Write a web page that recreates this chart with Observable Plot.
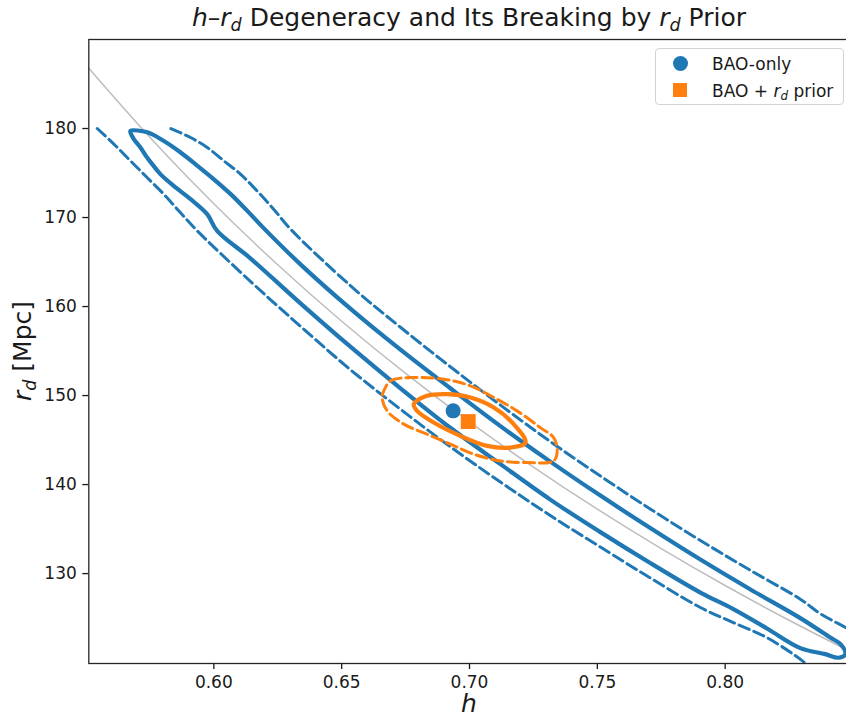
<!DOCTYPE html>
<html><head><meta charset="utf-8">
<script src="https://cdn.jsdelivr.net/npm/d3@7"></script>
<script src="https://cdn.jsdelivr.net/npm/@observablehq/plot@0.6"></script>
<style>
html,body{margin:0;padding:0;background:#fff;overflow:hidden}
body{font-family:"DejaVu Sans",sans-serif;color:#1a1a1a}
#wrap{position:relative;width:846px;height:717px;overflow:hidden}
#title{position:absolute;left:469px;top:3px;transform:translateX(-50%);white-space:nowrap;font-size:25px;line-height:30px}
#chart{position:absolute;left:0;top:37px}
.sub{font-size:70%;position:relative;top:0.3em}
#xlab{position:absolute;left:469px;top:692px;transform:translateX(-50%);font-size:25px;font-style:italic;line-height:24px}
#ylab{position:absolute;left:24px;top:351px;transform:translate(-50%,-50%) rotate(-90deg);white-space:nowrap;font-size:25px;line-height:30px}
#legend{position:absolute;left:655px;top:48px;width:189px;height:57px;box-sizing:border-box;border:1px solid #d3d3d3;border-radius:4px;background:rgba(255,255,255,0.85);font-size:17px}
.lrow{position:absolute;left:56px;white-space:nowrap;line-height:20px}
.mk{position:absolute}
</style></head>
<body>
<div id="wrap">
  <div id="title"><i>h</i>–<i>r</i><span class="sub"><i>d</i></span> Degeneracy and Its Breaking by <i>r</i><span class="sub"><i>d</i></span> Prior</div>
  <div id="chart"></div>
  <div id="xlab">h</div>
  <div id="ylab"><i>r</i><span class="sub"><i>d</i></span> [Mpc]</div>
  <div id="legend">
    <div class="mk" style="left:16.5px;top:6.5px;width:15px;height:15px;border-radius:50%;background:#1f77b4"></div>
    <div class="lrow" style="top:5px">BAO-only</div>
    <div class="mk" style="left:17px;top:34px;width:14px;height:14px;background:#ff7f0e"></div>
    <div class="lrow" style="top:31.5px">BAO + <i>r</i><span class="sub"><i>d</i></span> prior</div>
  </div>
</div>
<script>
// Tick values
const xTicks = [0.60, 0.65, 0.70, 0.75, 0.80];
const yTicks = [130, 140, 150, 160, 170, 180];

// Degeneracy guide line [h, r_d]
const degeneracyLine = [
  [0.551,186.80],[0.575,179.01],[0.600,171.55],[0.625,164.69],[0.650,158.35],[0.675,152.49],
  [0.700,147.04],[0.725,141.97],[0.750,137.24],[0.775,132.81],[0.800,128.66],[0.825,124.76],[0.849,121.24]
];

// BAO-only inner contour (closed) [h, r_d]
const baoInner = [
  [0.5674,179.74],[0.5740,179.57],[0.5803,178.62],[0.5869,177.33],[0.5936,175.81],[0.5998,174.35],
  [0.6065,172.66],[0.6131,170.75],[0.6194,168.84],[0.6339,164.74],[0.6534,159.76],[0.6730,155.15],
  [0.6925,150.82],[0.7121,146.57],[0.7316,142.58],[0.7512,138.76],[0.7707,135.12],[0.7903,131.58],
  [0.8099,128.22],[0.8294,125.00],[0.8411,122.82],[0.8451,122.07],[0.8470,120.95],[0.8443,120.55],
  [0.8392,120.95],[0.8294,121.63],[0.8165,123.81],[0.8032,126.01],[0.7903,127.87],[0.7707,131.19],
  [0.7512,134.66],[0.7316,138.31],[0.7121,142.30],[0.6925,146.38],[0.6730,150.82],[0.6534,155.49],
  [0.6339,160.36],[0.6143,165.42],[0.6013,168.50],[0.5974,170.38],[0.5909,172.07],[0.5843,173.56],
  [0.5791,174.88],[0.5759,176.00],[0.5739,176.74],[0.5713,177.87],[0.5687,178.81],[0.5674,179.55]
];

// BAO-only outer contour, upper branch (open) [h, r_d]
const baoOuterUpper = [
  [0.5832,180.00],[0.5909,178.99],[0.5974,177.87],[0.6039,176.37],[0.6104,174.88],[0.6169,173.00],
  [0.6234,170.94],[0.6300,168.70],[0.6534,162.35],[0.6730,157.67],[0.6925,153.24],[0.7121,148.93],
  [0.7316,144.83],[0.7512,140.96],[0.7707,137.26],[0.7903,133.72],[0.8099,130.36],[0.8294,127.13],
  [0.8372,125.50],[0.8474,123.90],[0.8510,123.30]
];

// BAO-only outer contour, lower branch (open) [h, r_d]
const baoOuterLower = [
  [0.5544,180.00],[0.5609,178.25],[0.5674,176.37],[0.5739,174.49],[0.5804,172.63],[0.5869,170.56],
  [0.5935,168.51],[0.6143,162.83],[0.6339,157.78],[0.6534,152.91],[0.6730,148.46],[0.6925,144.25],
  [0.7121,140.28],[0.7316,136.52],[0.7512,132.98],[0.7707,129.51],[0.7903,126.19],[0.8032,124.50],
  [0.8165,122.78],[0.8302,120.20],[0.8330,119.50]
];

// BAO + r_d prior inner contour (closed) [h, r_d]
const priorInner = [
  [0.6782,149.03],[0.6834,149.97],[0.6912,150.16],[0.7004,149.78],[0.7095,148.65],[0.7173,146.79],
  [0.7219,144.72],[0.7160,144.16],[0.7069,144.35],[0.6964,145.47],[0.6860,146.97],[0.6795,148.28]
];

// BAO + r_d prior outer contour (closed) [h, r_d]
const priorOuter = [
  [0.6665,150.53],[0.6691,151.65],[0.6769,152.02],[0.6899,151.84],[0.7004,151.09],[0.7095,149.78],
  [0.7186,148.28],[0.7277,146.40],[0.7329,145.28],[0.7343,143.79],[0.7329,142.66],[0.7225,142.47],
  [0.7121,142.66],[0.7016,143.42],[0.6925,144.54],[0.6834,145.66],[0.6743,146.79],[0.6678,148.28],
  [0.6658,149.78]
];

// Best-fit points
const baoOnlyPoint = [[0.6936, 148.28]];
const priorPoint = [[0.6995, 147.08]];

const X = d => d[0], Y = d => d[1];
const blue = "#1f77b4", orange = "#ff7f0e";

const chart = Plot.plot({
  width: 846,
  height: 680,
  marginTop: 2,
  marginBottom: 54,
  marginLeft: 88.3,
  marginRight: -3.7,
  x: {domain: [0.5511, 0.8489]},
  y: {domain: [119.9, 190.0]},
  style: {fontFamily: "DejaVu Sans, sans-serif", fontSize: "17px", color: "#1a1a1a", background: "white", overflow: "hidden"},
  marks: [
    Plot.line(degeneracyLine, {x: X, y: Y, stroke: "#bdbdbd", strokeWidth: 1.5, curve: "natural", clip: true}),
    Plot.line(baoOuterUpper, {x: X, y: Y, stroke: blue, strokeWidth: 3, strokeDasharray: "11,5", curve: "catmull-rom", clip: true}),
    Plot.line(baoOuterLower, {x: X, y: Y, stroke: blue, strokeWidth: 3, strokeDasharray: "11,5", curve: "catmull-rom", clip: true}),
    Plot.line(baoInner, {x: X, y: Y, stroke: blue, strokeWidth: 4.2, curve: "catmull-rom-closed", clip: true}),
    Plot.line(priorOuter, {x: X, y: Y, stroke: orange, strokeWidth: 3, strokeDasharray: "11,5", curve: "catmull-rom-closed", clip: true}),
    Plot.line(priorInner, {x: X, y: Y, stroke: orange, strokeWidth: 4.2, curve: "catmull-rom-closed", clip: true}),
    Plot.dot(baoOnlyPoint, {x: X, y: Y, r: 7.5, fill: blue, symbol: "circle"}),
    Plot.dot(priorPoint, {x: X, y: Y, r: 8.4, fill: orange, symbol: "square"}),
    Plot.frame({stroke: "#262626", strokeWidth: 1.3}),
    Plot.axisX({ticks: xTicks, tickFormat: d3.format(".2f"), tickSize: 6, tickPadding: 6, strokeWidth: 1.3, fontSize: 17, label: null}),
    Plot.axisY({ticks: yTicks, tickFormat: d3.format("d"), tickSize: 6, tickPadding: 6, strokeWidth: 1.3, fontSize: 17, label: null})
  ]
});
document.getElementById("chart").appendChild(chart);
</script>
</body></html>
